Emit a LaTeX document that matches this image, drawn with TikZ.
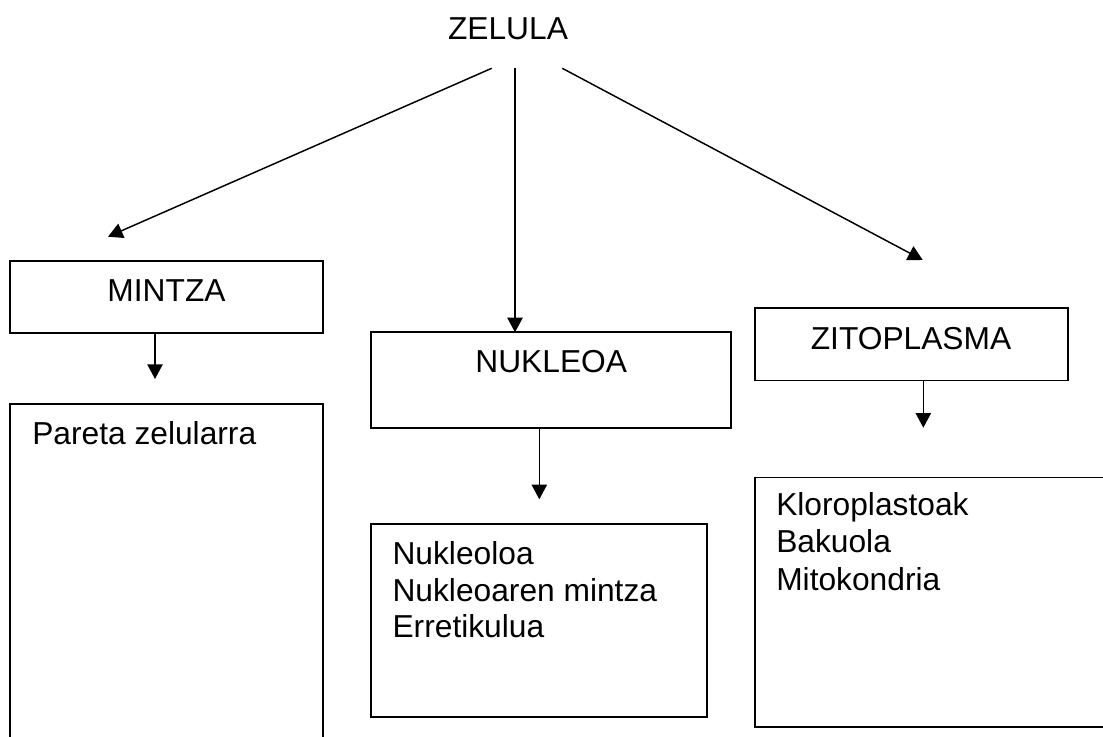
\documentclass[tikz,border=0pt]{standalone}
\usepackage{fontspec}
\setmainfont{Liberation Sans}
\usetikzlibrary{arrows.meta}
\begin{document}
\begin{tikzpicture}[x=0.75pt,y=-0.75pt,
  box/.style={draw,line width=1.3pt,inner sep=0pt,outer sep=0pt,anchor=north west},
  lbl/.style={inner sep=0pt,font=\fontsize{23.8pt}{27.5pt}\selectfont},
  conn/.style={line width=1.1pt,-{Triangle[length=11pt,width=11.5pt]}}]
\useasboundingbox (0,0) rectangle (1103,736);
% boxes
\node[box,minimum width=234.75pt,minimum height=54pt] (mintza) at (10,260.7) {};
\node[box,minimum width=234.75pt,minimum height=267pt] (pareta) at (10,404.3) {};
\node[box,minimum width=270.2pt,minimum height=72pt] (nukleoa) at (370.7,332.3) {};
\node[box,minimum width=234.75pt,minimum height=54.15pt] (zito) at (755,308.3) {};
\node[box,minimum width=252.45pt,minimum height=144.75pt] (nukleoloa) at (370.7,524.3) {};
\node[box,minimum width=273.75pt,minimum height=187.35pt] (kloro) at (755,477.5) {};
% texts
\node[lbl,anchor=base] (zelula) at (508,39) {ZELULA};
\node[lbl,anchor=base] (tmintza) at (166.5,301) {MINTZA};
\node[lbl,anchor=base] (tnukleoa) at (551.2,372.7) {NUKLEOA};
\node[lbl,anchor=base] (tzito) at (911,349) {ZITOPLASMA};
\node[lbl,anchor=base west] (tpareta) at (32,444) {Pareta zelularra};
\node[lbl,anchor=base west] (tn1) at (392.3,564) {Nukleoloa};
\node[lbl,anchor=base west] (tn2) at (392.3,601) {Nukleoaren mintza};
\node[lbl,anchor=base west] (tn3) at (392.3,637.7) {Erretikulua};
\node[lbl,anchor=base west] (tk1) at (776,515.7) {Kloroplastoak};
\node[lbl,anchor=base west] (tk2) at (776,552.7) {Bakuola};
\node[lbl,anchor=base west] (tk3) at (776,590) {Mitokondria};
% connector end points
\coordinate (s1) at (491.7,68.3);
\coordinate (e1) at (108,236.7);
\coordinate (s2) at (515,68.3);
\coordinate (s3) at (562.3,68.3);
\coordinate (e3) at (922.7,260);
\coordinate (e4) at (155,379);
\coordinate (e5) at (539.3,499.3);
\coordinate (e6) at (923.3,427.7);
% connectors
\draw[conn] (s1) -- (e1);
\draw[conn] (s2) -- (s2 |- nukleoa.north);
\draw[conn] (s3) -- (e3);
\draw[conn] (mintza.south -| e4) -- (e4);
\draw[conn] (nukleoa.south -| e5) -- (e5);
\draw[conn] (zito.south -| e6) -- (e6);
\end{tikzpicture}
\end{document}
